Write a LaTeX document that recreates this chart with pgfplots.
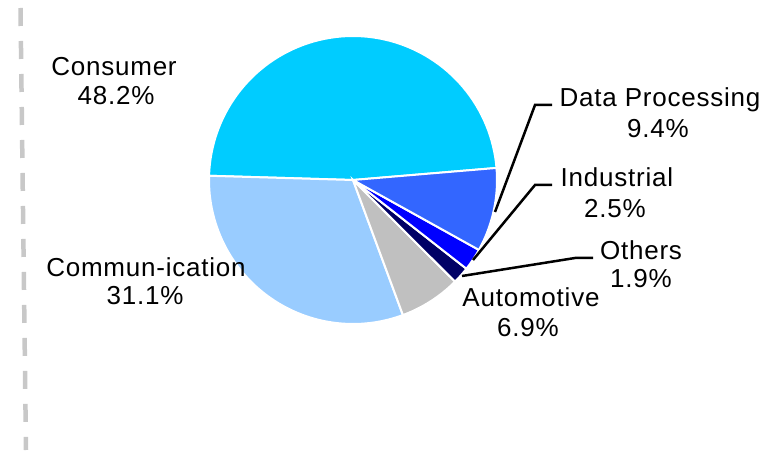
\documentclass[border=0pt]{standalone}
\usepackage{pgfplots}
\pgfplotsset{compat=1.18}
\usepackage{fontspec}
\setmainfont[LetterSpace=3]{Liberation Sans}
\definecolor{cCons}{HTML}{00CCFF}
\definecolor{cComm}{HTML}{99CCFF}
\definecolor{cAuto}{HTML}{C0C0C0}
\definecolor{cOth}{HTML}{000066}
\definecolor{cInd}{HTML}{0000FF}
\definecolor{cDP}{HTML}{3366FF}
\definecolor{cDash}{HTML}{C8C8C8}
\begin{document}
\begin{tikzpicture}
\def\pcx{353}\def\pcy{270}\def\pR{144}
% shares in percent
\def\vCons{48.2}\def\vComm{31.1}\def\vAuto{6.9}\def\vOth{1.9}\def\vInd{2.5}\def\vDP{9.4}
\pgfmathsetmacro\aA{4.8}
\pgfmathsetmacro\aB{\aA+\vCons*3.6}
\pgfmathsetmacro\aC{\aB+\vComm*3.6}
\pgfmathsetmacro\aD{\aC+\vAuto*3.6}
\pgfmathsetmacro\aE{\aD+\vOth*3.6}
\pgfmathsetmacro\aF{\aE+\vInd*3.6}
\pgfmathsetmacro\aG{\aF+\vDP*3.6}
\begin{axis}[width=765pt, height=450pt, scale only axis,
  xmin=0, xmax=765, ymin=0, ymax=450, hide axis, clip=false]
\path (axis cs:0,0) rectangle (axis cs:765,450);
% dashed separator
\addplot[cDash, line width=4.5pt, dash pattern=on 18pt off 15pt] coordinates {(20.5,442) (26,0)};
% pie slices
\addplot[fill=cCons, draw=white, line width=2pt, domain=\aA:\aB, samples=80, variable=\t] ({\pcx+\pR*cos(\t)},{\pcy+\pR*sin(\t)}) -- (axis cs:\pcx,\pcy) -- cycle;
\addplot[fill=cComm, draw=white, line width=2pt, domain=\aB:\aC, samples=60, variable=\t] ({\pcx+\pR*cos(\t)},{\pcy+\pR*sin(\t)}) -- (axis cs:\pcx,\pcy) -- cycle;
\addplot[fill=cAuto, draw=white, line width=2pt, domain=\aC:\aD, samples=20, variable=\t] ({\pcx+\pR*cos(\t)},{\pcy+\pR*sin(\t)}) -- (axis cs:\pcx,\pcy) -- cycle;
\addplot[fill=cOth, draw=white, line width=2pt, domain=\aD:\aE, samples=8, variable=\t] ({\pcx+\pR*cos(\t)},{\pcy+\pR*sin(\t)}) -- (axis cs:\pcx,\pcy) -- cycle;
\addplot[fill=cInd, draw=white, line width=2pt, domain=\aE:\aF, samples=8, variable=\t] ({\pcx+\pR*cos(\t)},{\pcy+\pR*sin(\t)}) -- (axis cs:\pcx,\pcy) -- cycle;
\addplot[fill=cDP, draw=white, line width=2pt, domain=\aF:\aG, samples=25, variable=\t] ({\pcx+\pR*cos(\t)},{\pcy+\pR*sin(\t)}) -- (axis cs:\pcx,\pcy) -- cycle;
% leader lines
\addplot[black, line width=2.5pt] coordinates {(552,345) (535,345) (495,238)};
\addplot[black, line width=2.5pt] coordinates {(552,265) (535,265) (473,190)};
\addplot[black, line width=2.5pt] coordinates {(593,192) (575,192) (462,174)};
% labels
\tikzset{lbl/.style={anchor=base, inner sep=0pt, font=\fontsize{26}{30}\selectfont}}
\node[lbl] at (axis cs:114,374) {Consumer};
\node[lbl] at (axis cs:116,345) {48.2\%};
\node[lbl] at (axis cs:146,173) {Commun-ication};
\node[lbl] at (axis cs:145,145) {31.1\%};
\node[lbl] at (axis cs:660,343) {Data Processing};
\node[lbl] at (axis cs:658,312) {9.4\%};
\node[lbl] at (axis cs:617,263) {Industrial};
\node[lbl] at (axis cs:615,232) {2.5\%};
\node[lbl] at (axis cs:641,190) {Others};
\node[lbl] at (axis cs:641,162) {1.9\%};
\node[lbl] at (axis cs:531,143) {Automotive};
\node[lbl] at (axis cs:528,113) {6.9\%};
\end{axis}
\end{tikzpicture}
\end{document}
